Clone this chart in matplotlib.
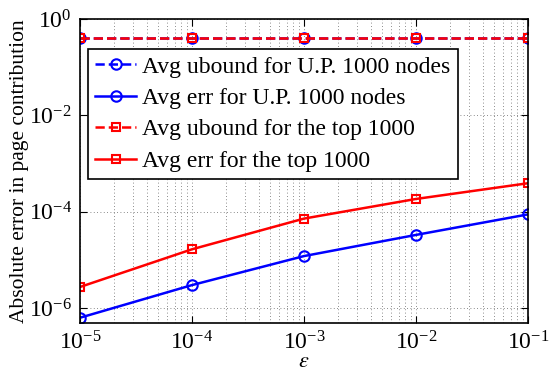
import matplotlib
matplotlib.use('Agg')
import matplotlib.pyplot as plt

plt.rcParams['font.family'] = ['Liberation Serif', 'DejaVu Serif']
plt.rcParams['mathtext.fontset'] = 'stix'

eps = [1e-5, 1e-4, 1e-3, 1e-2, 1e-1]
ubound_up = [0.40, 0.40, 0.40, 0.40, 0.40]
err_up = [6.3e-7, 3.0e-6, 1.2e-5, 3.3e-5, 8.8e-5]
ubound_top = [0.40, 0.40, 0.40, 0.40, 0.40]
err_top = [2.74e-6, 1.66e-5, 7.2e-5, 1.84e-4, 3.9e-4]

fig = plt.figure(figsize=(5.56, 3.74), dpi=100)
ax = fig.add_axes([80/556, 1 - 323/374, 448/556, 304/374])

ax.plot(eps, ubound_up, 'b--', marker='o', mfc='none', ms=7.5, mew=1.5, lw=1.8,
        label='Avg ubound for U.P. 1000 nodes')
ax.plot(eps, err_up, 'b-', marker='o', mfc='none', ms=7.5, mew=1.5, lw=1.8,
        label='Avg err for U.P. 1000 nodes')
ax.plot(eps, ubound_top, 'r--', marker='s', mfc='none', ms=6, mew=1.5, lw=1.8,
        label='Avg ubound for the top 1000')
ax.plot(eps, err_top, 'r-', marker='s', mfc='none', ms=6, mew=1.5, lw=1.8,
        label='Avg err for the top 1000')

ax.set_xscale('log')
ax.set_yscale('log')
ax.set_xlim(1e-5, 1e-1)
ax.set_ylim(10 ** -6.31, 1)
ax.set_xticks([1e-5, 1e-4, 1e-3, 1e-2, 1e-1])
ax.set_yticks([1e-6, 1e-4, 1e-2, 1e0])
ax.grid(True, which='both', ls=(0, (1, 3)), color='0.4', lw=0.6)
ax.tick_params(which='both', direction='in', top=True, right=True, labelsize=17)
ax.tick_params(which='major', length=5, pad=6)
ax.tick_params(which='minor', length=0)
for s in ax.spines.values():
    s.set_linewidth(1.2)

ax.set_xlabel(r'$\epsilon$', fontsize=16, labelpad=-1)
ax.set_ylabel('Absolute error in page contribution', fontsize=15.5, labelpad=0)

leg = ax.legend(loc='upper left', bbox_to_anchor=(8/448, 1 - 30/304), fontsize=17,
                fancybox=False, framealpha=1, edgecolor='black', borderpad=0.3,
                labelspacing=0.42, handlelength=1.75, handletextpad=0.25, borderaxespad=0)
leg.get_frame().set_linewidth(1.2)

fig.savefig('out.png', dpi=100)
